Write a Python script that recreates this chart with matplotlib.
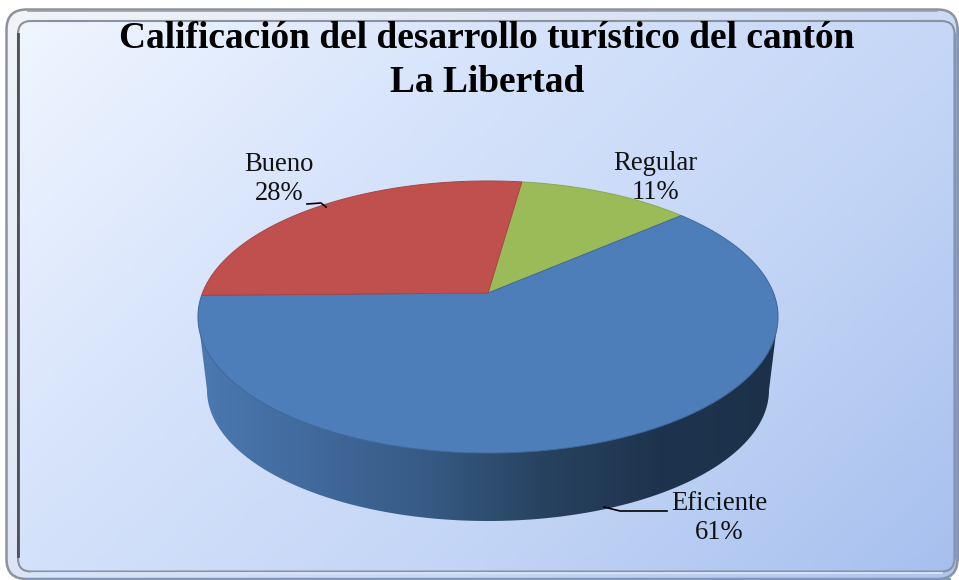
import numpy as np
import matplotlib
matplotlib.use("Agg")
import matplotlib.pyplot as plt
from matplotlib.colors import LinearSegmentedColormap
from matplotlib.patches import FancyBboxPatch, Polygon

# ===== data
title = "Calificación del desarrollo turístico del cantón\nLa Libertad"
labels = ["Regular", "Eficiente", "Bueno"]
values = [11.4, 61.1, 27.5]
colors = ["#9bbb59", "#4d7eb9", "#c0504d"]
edges = ["#8aa850", "#41699b", "#a84644"]

W, H = 959, 580
plt.rcParams['font.family'] = ['Liberation Serif', 'DejaVu Serif']

# ===== pie geometry (pixels)
cx, cy = 488, 293      # apex of the top face
a, b, k = 285.5, 131.8, 0.1765
start = 8.0            # clockwise from the back of the pie


def project(angle):
    # angle in degrees, clockwise from the back of the pie
    t = np.radians(angle)
    X, Y = np.sin(t), np.cos(t)
    w = 1 + k * Y
    return cx + a * X / w, cy - b * Y / w


fig = plt.figure(figsize=(W / 100, H / 100), dpi=100)
ax = fig.add_axes([0, 0, 1, 1])
ax.axis("off")

# ===== frame and background
gx, gy = np.meshgrid(np.linspace(0, 1, 240), np.linspace(0, 1, 150))
ramp = 0.62 * gx + 0.38 * gy

outer = FancyBboxPatch((6.5, 9.5), 951, 569.5, boxstyle="round,pad=0,rounding_size=20",
                       fc="none", ec="none", zorder=1)
ax.add_patch(outer)
band_cmap = LinearSegmentedColormap.from_list("band", ["#f2f4f8", "#dfe7f6", "#c8d8f5", "#afc5ec"])
im0 = ax.imshow(ramp, cmap=band_cmap, vmin=0, vmax=1, extent=(6, 958, 580, 9), aspect="auto", zorder=1)
im0.set_clip_path(outer)

inner = FancyBboxPatch((18, 21), 936.5, 550.5, boxstyle="round,pad=0,rounding_size=13",
                       fc="none", ec="none", zorder=2)
ax.add_patch(inner)
bg_cmap = LinearSegmentedColormap.from_list("bg", ["#f0f6ff", "#d6e3fb", "#c3d5f6", "#a6c0ee"])
im = ax.imshow(ramp, cmap=bg_cmap, vmin=0, vmax=1, extent=(18, 955, 572, 21), aspect="auto", zorder=2)
im.set_clip_path(inner)

# outer and inner outlines, darker on the top and left
ax.add_patch(FancyBboxPatch((6.5, 9.5), 951, 569.5, boxstyle="round,pad=0,rounding_size=20",
                            fc="none", ec="#8d939c", lw=1.8, zorder=3))
ax.plot([28, W - 22], [10.5, 10.5], color="#989ea8", lw=1.2, zorder=3)
ax.plot([26, 950], [578.8, 578.8], color="#8197bd", lw=1.4, zorder=3)
ax.plot([957.5, 957.5], [28, 560], color="#8397b9", lw=1.4, zorder=3)
ax.add_patch(FancyBboxPatch((18, 21), 936.5, 550.5, boxstyle="round,pad=0,rounding_size=13",
                            fc="none", ec="#8a92a0", lw=1.5, zorder=3))
ax.plot([18, 18], [34, 556], color="#4d5055", lw=2.0, zorder=3)
ax.plot([32, 942], [571.5, 571.5], color="#7f93b8", lw=1.0, zorder=3)
ax.plot([32, 942], [573, 573], color="#d7e3f8", lw=1.4, zorder=3)
ax.plot([954.5, 954.5], [34, 558], color="#8195b8", lw=1.6, zorder=3)

# ===== pie side
tt = np.radians(np.linspace(180, 0, 241))
low_x = 488 + 281 * np.cos(tt)
low_y = 390 + 131 * np.sin(tt)
rim_x, rim_y = project(np.linspace(0, 360, 1441))
seq = np.where(rim_y <= 317)[0]
seq = seq[np.argsort(rim_x[seq])]
ox = np.concatenate([low_x, rim_x[seq][::-1]])
oy = np.concatenate([low_y, rim_y[seq][::-1]])
side = Polygon(np.column_stack([ox, oy]), closed=True, fc="none", ec="none", zorder=4)
ax.add_patch(side)
side_cmap = LinearSegmentedColormap.from_list(
    "side", ["#4a79b0", "#41699c", "#365a84", "#27425f", "#1e344e", "#1c3049"])
sg = ax.imshow(np.linspace(0, 1, 300)[None, :], cmap=side_cmap, extent=(198, 778, 525, 290),
               aspect="auto", zorder=4)
sg.set_clip_path(side)

# ===== pie top, one wedge per value
bounds = start + 360 * np.cumsum([0] + values) / sum(values)
for i, name in enumerate(labels):
    ang = np.linspace(bounds[i], bounds[i + 1], 200)
    x, y = project(ang)
    pts = np.column_stack([np.r_[cx, x], np.r_[cy, y]])
    ax.add_patch(Polygon(pts, closed=True, fc=colors[i], ec=edges[i], lw=0.7, zorder=5))

# ===== labels
txt = dict(ha="center", va="center", fontsize=19.2, color="#111111", linespacing=1.24, zorder=6)
pct = [round(100 * v / sum(values)) for v in values]
ax.text(655, 178, "%s\n%d%%" % (labels[0], pct[0]), **txt)
ax.text(719.5, 518, "%s\n%d%%" % (labels[1], pct[1]), **txt)
ax.text(279, 179, "%s\n%d%%" % (labels[2], pct[2]), **txt)
ax.plot([307, 321, 326], [204, 203, 207], color="black", lw=1.2, zorder=6)
ax.plot([604, 620, 667], [507, 511, 511], color="black", lw=1.2, zorder=6)

ax.text(487, 60.5, title, ha="center", va="center", fontsize=26.9, fontweight="bold",
        color="black", linespacing=1.34, zorder=6)

ax.set_xlim(0, W)
ax.set_ylim(H, 0)
fig.savefig("out.png", dpi=100, facecolor="white")
